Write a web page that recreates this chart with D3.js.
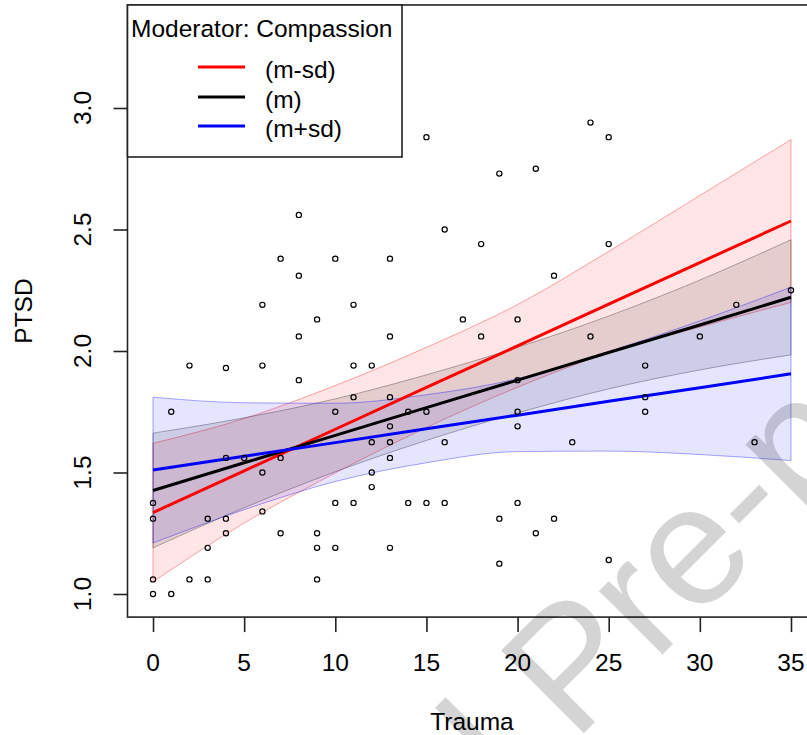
<!DOCTYPE html>
<html>
<head>
<meta charset="utf-8">
<script src="https://cdn.jsdelivr.net/npm/d3@7/dist/d3.min.js"></script>
<style>
  html, body { margin: 0; padding: 0; background: #fff; }
  svg { display: block; }
  text { font-family: "Liberation Sans", Arial, Helvetica, sans-serif; }
</style>
</head>
<body>
<svg id="chart" width="807" height="735"></svg>
<script>
// ---------- data ----------
const xTicks = [0, 5, 10, 15, 20, 25, 30, 35];
const yTicks = [1.0, 1.5, 2.0, 2.5, 3.0];
const yTickLabels = ["1.0", "1.5", "2.0", "2.5", "3.0"];

// scatter points (Trauma, PTSD)
const pointX = [0,0,0,0, 1,1, 2,2, 3,3,3, 4,4,4,4, 5, 6,6,6,6, 7,7,7, 8,8,8,8,
  9,9,9,9, 10,10,10,10, 11,11,11,11, 12,12,12,12, 13,13,13,13,13,13,13,
  14,14, 15,15,15, 16,16,16, 17, 18,18, 19,19,19, 20,20,20,20,20, 21,21,
  22,22, 23, 24,24, 25,25,25, 27,27,27, 30, 32, 33, 35];
const pointY = [1.375,1.31,1.06,1.0, 1.75,1.0, 1.94,1.06, 1.31,1.19,1.06,
  1.93,1.56,1.31,1.25, 1.56, 2.19,1.94,1.50,1.34, 2.38,1.56,1.25,
  2.56,2.31,2.06,1.88, 2.13,1.25,1.19,1.06, 2.38,1.75,1.375,1.19,
  2.19,1.94,1.81,1.375, 1.94,1.625,1.50,1.44, 2.38,2.06,1.81,1.69,1.625,1.56,1.19,
  1.75,1.375, 2.88,1.75,1.375, 2.50,1.625,1.375, 2.13, 2.44,2.06,
  2.73,1.31,1.125, 2.13,1.88,1.75,1.69,1.375, 2.75,1.25, 2.31,1.31, 1.625,
  2.94,2.06, 2.88,2.44,1.14, 1.94,1.81,1.75, 2.06, 2.19, 1.625, 2.25];

// simple slopes and confidence bands, read at these Trauma values
const bandX = [0, 5, 10, 15, 20, 25, 30, 35];
const seriesNames = ["(m-sd)", "(m)", "(m+sd)"];
const seriesColors = ["#ff0000", "#000000", "#0000ff"];
const lowLine   = [1.335, 1.507, 1.678, 1.850, 2.021, 2.193, 2.364, 2.535];
const lowUpper  = [1.620, 1.722, 1.858, 2.015, 2.191, 2.410, 2.640, 2.870];
const lowLower  = [1.050, 1.292, 1.498, 1.685, 1.851, 1.993, 2.099, 2.200];
const midLine   = [1.426, 1.540, 1.653, 1.767, 1.880, 1.994, 2.107, 2.221];
const midUpper  = [1.662, 1.725, 1.803, 1.902, 2.015, 2.144, 2.292, 2.458];
const midLower  = [1.190, 1.355, 1.503, 1.632, 1.745, 1.844, 1.922, 1.984];
const highLine  = [1.510, 1.567, 1.623, 1.680, 1.736, 1.793, 1.849, 1.906];
const highUpper = [1.810, 1.787, 1.785, 1.820, 1.886, 1.998, 2.124, 2.263];
const highLower = [1.210, 1.347, 1.463, 1.540, 1.586, 1.588, 1.574, 1.549];

const lineSets  = [lowLine, midLine, highLine];
const upperSets = [lowUpper, midUpper, highUpper];
const lowerSets = [lowLower, midLower, highLower];

const legendTitle = "Moderator: Compassion";
const xLabel = "Trauma";
const yLabel = "PTSD";
const watermarkA = "Journal\u00a0";
const watermarkB = "Pre-proof";

// ---------- scales ----------
const x = d3.scaleLinear().domain([-1.4, 36.4]).range([127.5, 816.5]);
const y = d3.scaleLinear().domain([1, 3]).range([594, 108]);
const yMin = 0.905, yMax = 3.424;

const svg = d3.select("#chart");
const FS = 24.5;

// ---------- scatter points ----------
const pts = pointX.map((d, i) => ({x: d, y: pointY[i]}));

// bands
const bandGroup = svg.append("g");
const bandFill = ["rgba(255,0,0,0.10)", "rgba(0,0,0,0.10)", "rgba(0,0,255,0.10)"];
const bandStroke = ["rgba(255,0,0,0.35)", "rgba(0,0,0,0.30)", "rgba(0,0,255,0.35)"];
const area = d3.area()
  .x(d => x(d.x)).y0(d => y(d.lo)).y1(d => y(d.hi))
  .curve(d3.curveMonotoneX);
for (let s = 0; s < 3; s++) {
  const data = bandX.map((bx, i) => ({x: bx, lo: lowerSets[s][i], hi: upperSets[s][i]}));
  bandGroup.append("path")
    .attr("d", area(data))
    .attr("fill", bandFill[s])
    .attr("stroke", bandStroke[s])
    .attr("stroke-width", 1);
}

// lines
const line = d3.line().x(d => x(d.x)).y(d => y(d.v));
for (let s = 0; s < 3; s++) {
  const data = bandX.map((bx, i) => ({x: bx, v: lineSets[s][i]}));
  svg.append("path")
    .attr("d", line(data))
    .attr("fill", "none")
    .attr("stroke", seriesColors[s])
    .attr("stroke-width", 3);
}

// points
svg.append("g").selectAll("circle").data(pts).join("circle")
  .attr("cx", d => x(d.x)).attr("cy", d => y(d.y)).attr("r", 2.6)
  .attr("fill", "none").attr("stroke", "#000").attr("stroke-width", 1.2);

// ---------- frame ----------
const x0 = x.range()[0], x1 = x.range()[1];
const yb = y(yMin), yt = y(yMax);
svg.append("rect")
  .attr("x", x0).attr("y", yt).attr("width", x1 - x0).attr("height", yb - yt)
  .attr("fill", "none").attr("stroke", "#222").attr("stroke-width", 1.6);

// ---------- axes ----------
const gx = svg.append("g").attr("transform", `translate(0,${yb})`)
  .call(d3.axisBottom(x).tickValues(xTicks).tickSize(15).tickSizeOuter(0).tickPadding(0).tickFormat(""));
gx.select(".domain").remove();
gx.selectAll(".tick line").attr("stroke", "#222").attr("stroke-width", 1.6);
xTicks.forEach(t => {
  svg.append("text").attr("x", x(t)).attr("y", 671).attr("text-anchor", "middle")
    .attr("font-size", FS).attr("fill", "#000").text(String(t));
});

const gy = svg.append("g").attr("transform", `translate(${x0},0)`)
  .call(d3.axisLeft(y).tickValues(yTicks).tickSize(14).tickSizeOuter(0).tickFormat(""));
gy.select(".domain").remove();
gy.selectAll(".tick line").attr("stroke", "#222").attr("stroke-width", 1.6);
yTicks.forEach((t, i) => {
  svg.append("text")
    .attr("transform", `translate(91,${y(t)}) rotate(-90)`)
    .attr("text-anchor", "middle").attr("font-size", FS).attr("fill", "#000")
    .text(yTickLabels[i]);
});

// axis titles
svg.append("text").attr("x", (x0 + x1) / 2).attr("y", 730)
  .attr("text-anchor", "middle").attr("font-size", FS).attr("fill", "#000").text(xLabel);
svg.append("text").attr("transform", `translate(32,${(yb + yt) / 2}) rotate(-90)`)
  .attr("text-anchor", "middle").attr("font-size", FS).attr("fill", "#000").text(yLabel);

// ---------- legend ----------
const lg = svg.append("g");
lg.append("rect").attr("x", x0).attr("y", yt).attr("width", 402 - x0).attr("height", 157 - yt)
  .attr("fill", "#fff").attr("stroke", "#222").attr("stroke-width", 1.6);
lg.append("text").attr("x", 131).attr("y", 37).attr("font-size", FS).attr("fill", "#000").text(legendTitle);
const legY = [67, 97, 126];
seriesNames.forEach((n, i) => {
  lg.append("line").attr("x1", 198).attr("x2", 245).attr("y1", legY[i]).attr("y2", legY[i])
    .attr("stroke", seriesColors[i]).attr("stroke-width", 3);
  lg.append("text").attr("x", 265).attr("y", legY[i] + 11).attr("font-size", FS)
    .attr("fill", "#000").text(n);
});

// ---------- watermark ----------
const wm = svg.append("g").attr("transform", "translate(574,743) rotate(-45)")
  .attr("fill", "#000").attr("fill-opacity", 0.17)
  .attr("font-size", 170);
wm.append("text").attr("text-anchor", "end").text(watermarkA);
wm.append("text").attr("text-anchor", "start").text(watermarkB);
</script>
</body>
</html>
